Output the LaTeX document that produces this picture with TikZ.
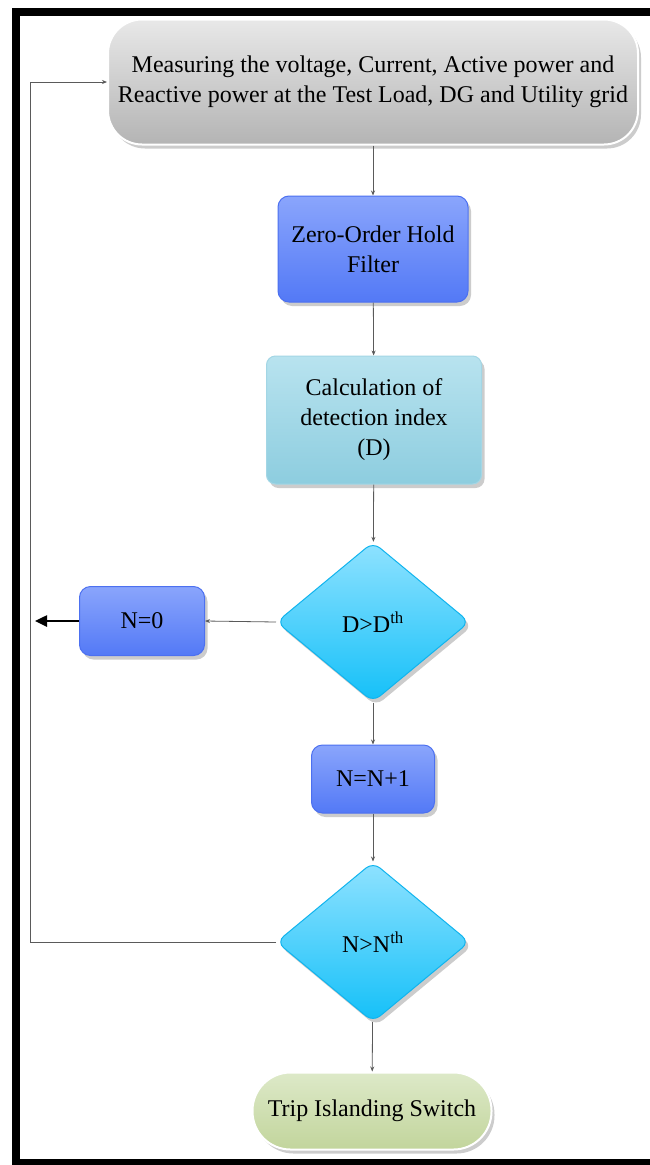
\documentclass[tikz,border=0pt]{standalone}
\usepackage{fontspec}
\setmainfont{Liberation Serif}
\usetikzlibrary{shapes.geometric,shadows,arrows.meta}
\definecolor{grayTop}{HTML}{E8E8E8}
\definecolor{grayBot}{HTML}{B4B4B4}
\definecolor{blueTop}{HTML}{8AA5FC}
\definecolor{blueBot}{HTML}{5379F6}
\definecolor{blueLine}{HTML}{4C70F0}
\definecolor{tealTop}{HTML}{B8E3EF}
\definecolor{tealBot}{HTML}{8DCDDF}
\definecolor{tealLine}{HTML}{A3D6E5}
\definecolor{cyanTop}{HTML}{8FE2FF}
\definecolor{cyanBot}{HTML}{14C0F8}
\definecolor{cyanLine}{HTML}{10B4EE}
\definecolor{greenTop}{HTML}{DDE9C8}
\definecolor{greenBot}{HTML}{C2D59C}
\definecolor{wire}{HTML}{5A5A5A}
\begin{document}
\begin{tikzpicture}[x=1pt,y=-1pt,
  txt/.style={font=\fontsize{24}{30}\selectfont, align=center, text=black},
  greybox/.style={txt, rectangle, rounded corners=34pt, top color=grayTop, bottom color=grayBot,
    draw=white, line width=2pt, drop shadow={shadow xshift=3pt, shadow yshift=-4pt, opacity=0.4}},
  bluebox/.style={txt, rectangle, rounded corners=11pt, top color=blueTop, bottom color=blueBot,
    draw=blueLine, line width=1pt, drop shadow={shadow xshift=3pt, shadow yshift=-4pt, opacity=0.4}},
  tealbox/.style={txt, rectangle, rounded corners=9pt, top color=tealTop, bottom color=tealBot,
    draw=tealLine, line width=1pt, drop shadow={shadow xshift=3pt, shadow yshift=-4pt, opacity=0.4}},
  decision/.style={txt, diamond, inner sep=0pt, rounded corners=9pt, minimum width=193pt, minimum height=160pt,
    top color=cyanTop, bottom color=cyanBot, draw=cyanLine, line width=1pt,
    drop shadow={shadow xshift=3pt, shadow yshift=-4pt, opacity=0.4}},
  endbox/.style={txt, rectangle, rounded corners=38pt, top color=greenTop, bottom color=greenBot,
    draw=white, line width=2pt, drop shadow={shadow xshift=3pt, shadow yshift=-4pt, opacity=0.4}},
  flow/.style={draw=wire, line width=0.8pt, -{Stealth[length=5pt,width=4pt]}}]
\useasboundingbox (0,0) rectangle (649,1165);
\fill[white] (0,0) rectangle (649,1165);
\draw[line width=8pt] (16,1170) -- (16,12) -- (660,12);
\draw[line width=6pt] (12,1162) -- (660,1162);

\node[greybox, minimum width=530pt, minimum height=125pt] (meas) at (373,82)
  {Measuring the voltage, Current, Active power and\\Reactive power at the Test Load, DG and Utility grid};
\node[bluebox, minimum width=190pt, minimum height=106pt] (zoh) at (373,249) {Zero-Order Hold\\Filter};
\node[tealbox, minimum width=215pt, minimum height=128pt] (calc) at (374,420) {Calculation of\\detection index\\(D)};
\node[decision] (dchk) at (373,622) {D\textgreater D\textsuperscript{th}};
\node[bluebox, minimum width=125pt, minimum height=69pt] (nzero) at (142,621) {N=0};
\node[bluebox, minimum width=123pt, minimum height=68pt] (ninc) at (373,779) {N=N+1};
\node[decision] (nchk) at (373,942) {N\textgreater N\textsuperscript{th}};
\node[endbox, minimum width=239pt, minimum height=77pt] (trip) at (372,1111) {Trip Islanding Switch};

\coordinate (back) at (35,621);
\coordinate (loop) at (30,942);

\path[flow] (meas) -- (zoh);
\path[flow] (zoh) -- (calc);
\path[flow] (calc) -- (dchk);
\path[flow] (dchk) -- (ninc);
\path[flow] (ninc) -- (nchk);
\path[flow] (nchk) -- (trip);
\path[flow] (dchk.west) -- (nzero.east);
\path[draw,line width=2.5pt,-{Triangle[length=12pt,width=11pt]}] (nzero.west) -- (back);
\path[flow] (nchk.west) -- (loop) |- (meas.west);
\end{tikzpicture}
\end{document}
